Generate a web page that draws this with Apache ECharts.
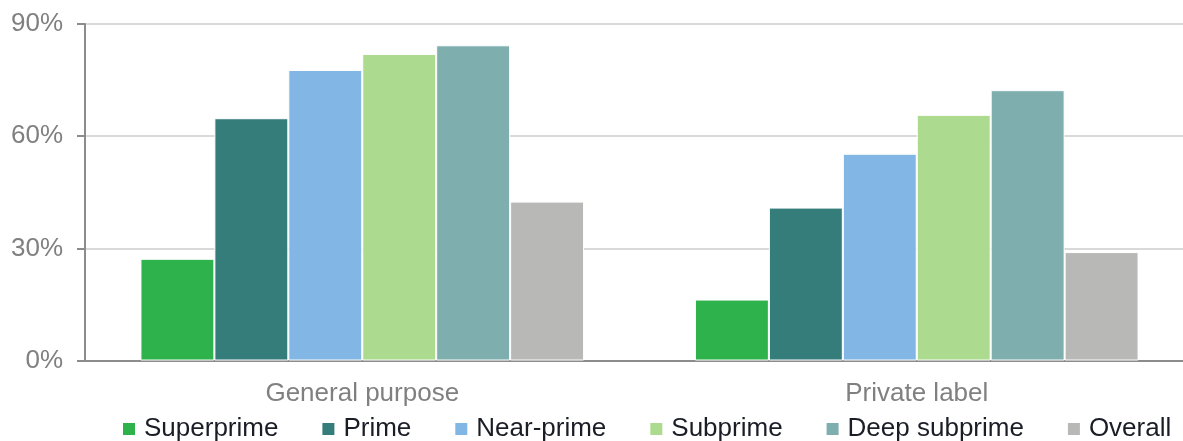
<!DOCTYPE html>
<html>
<head>
<meta charset="utf-8">
<script src="https://cdn.jsdelivr.net/npm/echarts@6/dist/echarts.min.js"></script>
<style>
  html, body { margin: 0; padding: 0; background: #fff; overflow: hidden; }
  /* canvas is a bit wider than the viewport so the plot area runs off the right edge */
  #chart { width: 1194px; height: 441px; }
</style>
</head>
<body>
<div id="chart"></div>
<script>
// Card types along the category axis
const categories = ['General purpose', 'Private label'];

// Share (%) by credit score tier, one array per tier
const superprime   = [27.2, 16.3];
const prime        = [64.8, 40.9];
const nearPrime    = [77.7, 55.3];
const subprime     = [82.0, 65.7];
const deepSubprime = [84.3, 72.3];
const overall      = [42.5, 29.0];

const seriesNames = ['Superprime', 'Prime', 'Near-prime', 'Subprime', 'Deep subprime', 'Overall'];
const seriesData  = [superprime, prime, nearPrime, subprime, deepSubprime, overall];
const colors      = ['#2eb24b', '#357d7b', '#82b6e4', '#acdb8f', '#7faeae', '#b8b8b7'];

// Y axis ticks
const yTicks = [0, 30, 60, 90];

const chart = echarts.init(document.getElementById('chart'), null, { renderer: 'canvas' });

const font = '"Liberation Sans", Arial, sans-serif';

chart.setOption({
  animation: false,
  color: colors,
  grid: { left: 85, right: 0, top: 24, bottom: 80.5, containLabel: false },
  legend: {
    left: 123,
    top: 416,
    padding: 0,
    width: 1060,
    itemWidth: 12,
    itemHeight: 12,
    itemGap: 44,
    icon: 'rect',
    itemStyle: { borderWidth: 0 },
    textStyle: { fontFamily: font, fontSize: 26, color: '#1a1d26', padding: [0, 0, 0, 4] },
    data: seriesNames
  },
  xAxis: {
    type: 'category',
    data: categories,
    axisLine: { lineStyle: { color: '#8c8c8c', width: 2 } },
    axisTick: { show: false },
    axisLabel: { fontFamily: font, fontSize: 26, color: '#808080', margin: 20 }
  },
  yAxis: {
    type: 'value',
    min: yTicks[0],
    max: yTicks[yTicks.length - 1],
    interval: yTicks[1] - yTicks[0],
    axisLine: { show: true, lineStyle: { color: '#8c8c8c', width: 2 } },
    axisTick: { show: true, length: 8, lineStyle: { color: '#8c8c8c', width: 2 } },
    splitLine: { lineStyle: { color: '#d9d9d9', width: 2 } },
    axisLabel: { fontFamily: font, fontSize: 26, color: '#808080', margin: 22, formatter: '{value}%' }
  },
  series: seriesNames.map((name, i) => ({
    name,
    type: 'bar',
    data: seriesData[i],
    barGap: '0%',
    barCategoryGap: '20%',
    itemStyle: { borderColor: '#ffffff', borderWidth: 1 }
  }))
});
</script>
</body>
</html>
